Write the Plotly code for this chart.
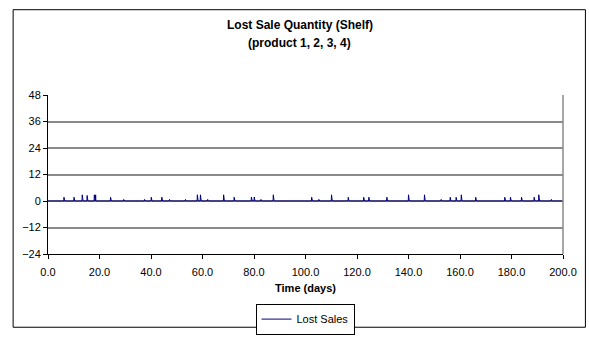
import numpy as np
import plotly.graph_objects as go

# Spikes: (day, lost sales quantity)
spike_days = [6.2, 10.1, 13.3, 15.2, 18.0, 18.5, 24.3, 29.4, 37.5, 40.1, 44.2, 47.2,
              53.4, 58.0, 59.2, 62.0, 68.2, 72.3, 79.0, 80.1, 82.7, 87.5,
              102.4, 105.2, 110.1, 116.6, 122.6, 124.6, 131.6, 140.0, 146.2, 152.7,
              156.2, 158.5, 160.5, 166.1, 177.4, 179.6, 183.9, 188.8, 190.6, 195.5]
spike_values = [1.7, 1.7, 2.8, 2.5, 2.8, 2.8, 1.7, 0.7, 0.7, 1.7, 1.7, 0.7,
                0.7, 2.8, 2.8, 0.7, 2.8, 1.7, 1.8, 1.8, 0.7, 2.8,
                1.7, 0.7, 2.8, 1.7, 1.7, 1.7, 1.7, 2.8, 2.8, 0.7,
                1.7, 1.7, 2.8, 1.7, 1.7, 1.7, 1.7, 1.7, 2.8, 0.7]

STEP = 0.1
time_days = np.round(np.arange(0, 200.0001, STEP), 2)
lost_sales = np.zeros_like(time_days)
for d, v in zip(spike_days, spike_values):
    lost_sales[int(round(d / STEP))] = v

y_ticks = [-24, -12, 0, 12, 24, 36, 48]
x_ticks = [0, 20, 40, 60, 80, 100, 120, 140, 160, 180, 200]
title_lines = ["Lost Sale Quantity (Shelf)", "(product 1, 2, 3, 4)"]

W, H = 589, 347
L, R, T, B = 48, 565, 95, 266.5
PH = B - T


def py(pix):
    return (B - pix) / PH


def px(pix):
    return (pix - L) / (R - L)


fig = go.Figure()
fig.add_trace(go.Scatter(x=time_days, y=lost_sales, mode="lines", name="Lost Sales",
                         line=dict(color="#000080", width=1)))

font = "Liberation Sans, Arial, sans-serif"
fig.update_layout(
    width=W, height=H,
    margin=dict(l=L, r=W - R, t=T, b=H - B),
    paper_bgcolor="white", plot_bgcolor="white",
    font=dict(family=font, size=11, color="black"),
    showlegend=True,
    legend=dict(orientation="h", x=px(306), xanchor="center",
                y=py(320), yanchor="top", itemwidth=30,
                bordercolor="black", borderwidth=1, bgcolor="white",
                font=dict(family=font, size=11)),
    xaxis=dict(range=[0, 200], tickvals=x_ticks, tickformat=".1f",
               showgrid=False, zeroline=False, showline=True, linecolor="black", linewidth=1,
               ticks="outside", ticklen=4, tickcolor="black", ticklabelstandoff=4,
               title=dict(text="<b>Time (days)</b>", standoff=7,
                          font=dict(family=font, size=11))),
    yaxis=dict(range=[-24, 48], tickvals=y_ticks, showgrid=True, gridcolor="#8a8a8a",
               gridwidth=1.5, zeroline=False, showline=True, linecolor="black", linewidth=1,
               ticks="outside", ticklen=4, tickcolor="black"),
)

for txt, ypix in zip(title_lines, [20.0, 38.5]):
    fig.add_annotation(text="<b>%s</b>" % txt, xref="paper", yref="paper",
                       x=px(300.5), y=py(ypix), xanchor="center", yanchor="middle",
                       showarrow=False, font=dict(family=font, size=12, color="black"))

# Plot area right edge (gray) and outer chart border (black)
fig.add_shape(type="line", xref="paper", yref="paper", x0=1, x1=1, y0=0, y1=1,
              line=dict(color="#8a8a8a", width=1.5))
fig.add_shape(type="rect", xref="paper", yref="paper",
              x0=px(13), x1=px(587.5), y0=py(345.5), y1=py(3),
              line=dict(color="black", width=1), layer="below")

fig.write_html("out.html")
